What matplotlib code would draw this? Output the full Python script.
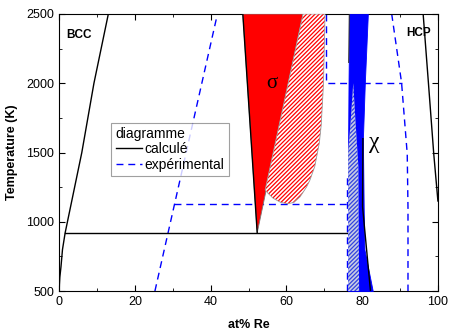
import matplotlib
matplotlib.use("Agg")
import matplotlib.pyplot as plt
from matplotlib.ticker import MultipleLocator

plt.rcParams['font.family'] = ['Liberation Sans', 'DejaVu Sans']
plt.rcParams['hatch.linewidth'] = 0.9

# calculated boundaries (solid black)
bcc_x = [0, 0.2, 0.5, 0.9, 1.6, 6.0, 9.2, 13.0]
bcc_t = [500, 600, 675, 800, 920, 1500, 2000, 2500]
hcp_x = [96.1, 97.5, 98.9, 100.0]
hcp_t = [2500, 2000, 1490, 1150]
eut_x = [1.6, 76.3]
eut_t = [920, 920]

# calculated sigma (red)
sigma_x = [52.3, 48.5, 64.4]
sigma_t = [920, 2500, 2500]

# calculated chi (blue band), left and right boundaries
chi_t = [500, 800, 1100, 1600, 2000, 2500]
chi_lo = [76.3, 76.3, 76.3, 76.3, 76.4, 76.6]
chi_hi = [82.8, 80.6, 80.4, 80.2, 80.7, 81.5]
chi_left_x = [76.6, 76.45]
chi_left_t = [2500, 2150]
chi_line_x = [80.2, 80.1, 82.2]
chi_line_t = [1600, 1110, 500]

# experimental sigma (red hatch)
sig_exp_x = [64.4, 70.2, 69.8, 69.2, 68.7, 67.5, 66.2, 65.3, 63.6, 62.0, 60.4, 58.5, 56.5, 55.0, 54.4]
sig_exp_t = [2500, 2500, 2000, 1700, 1570, 1400, 1300, 1250, 1180, 1140, 1130, 1140, 1170, 1210, 1230]

# experimental chi (blue hatch)
chi_exp_x = [76.3, 76.3, 76.9, 77.65, 78.3, 79.0, 79.2]
chi_exp_t = [500, 1500, 1700, 2000, 1700, 1400, 500]

# experimental boundaries (dashed blue)
exp_left_x = [25.3, 41.8]
exp_left_t = [500, 2500]
exp_h1_x = [30.4, 76.3]
exp_h1_t = [1125, 1125]
exp_v1_x = [76.0, 76.0]
exp_v1_t = [500, 1350]
exp_sig_x = [70.4, 70.4, 90.4]
exp_sig_t = [2500, 2005, 2005]
exp_right_x = [87.8, 90.4, 91.9, 92.1, 92.1]
exp_right_t = [2500, 2005, 1490, 1100, 500]

fig, ax = plt.subplots(figsize=(4.51, 3.33), dpi=100)
fig.subplots_adjust(left=0.131, right=0.971, bottom=0.126, top=0.958)

dash = dict(color='#0000ff', lw=1.0, dashes=(5, 3.5))

ax.plot(exp_left_x, exp_left_t, **dash)
ax.plot(exp_h1_x, exp_h1_t, **dash)
ax.plot(exp_v1_x, exp_v1_t, **dash)
ax.plot(exp_sig_x, exp_sig_t, **dash)
ax.plot(exp_right_x, exp_right_t, **dash)

ax.fill(sigma_x, sigma_t, facecolor='#ff0000', edgecolor='#777777', lw=0.6, zorder=3)
ax.plot(sigma_x[:2], sigma_t[:2], color='black', lw=1.0, zorder=4)
ax.fill(sig_exp_x, sig_exp_t, facecolor='white', edgecolor='#ff0000', hatch='////////', lw=0, zorder=3)
ax.fill(sig_exp_x, sig_exp_t, facecolor='none', edgecolor='#999999', lw=0.6, zorder=3)

ax.fill_betweenx(chi_t, chi_lo, chi_hi, color='#0000ff', lw=0.6, zorder=3)
ax.fill(chi_exp_x, chi_exp_t, facecolor='#c8cce6', edgecolor='#3344dd', hatch='////////', lw=0, zorder=4)
ax.plot(chi_line_x, chi_line_t, color='black', lw=1.0, zorder=5)
ax.plot(chi_left_x, chi_left_t, color='#222222', lw=0.7, zorder=5)

ax.plot(bcc_x, bcc_t, color='black', lw=1.0)
ax.plot(hcp_x, hcp_t, color='black', lw=1.0)
ax.plot(eut_x, eut_t, color='black', lw=1.0)

# legend entries
ax.plot([], [], color='black', lw=1.0, label='calculé')
ax.plot([], [], label='expérimental', **dash)
leg = ax.legend(title='diagramme', loc='upper left', bbox_to_anchor=(0.138, 0.608),
                fontsize=10, title_fontsize=10, frameon=True, fancybox=False,
                edgecolor='#888888', handlelength=1.9, handletextpad=0.2,
                borderpad=0.3, labelspacing=0.1, borderaxespad=0)
leg._legend_box.align = 'left'
leg.get_frame().set_linewidth(0.8)

ax.text(2.0, 2345, 'BCC', fontsize=8.5, fontweight='bold', va='center', ha='left')
ax.text(91.6, 2360, 'HCP', fontsize=8.5, fontweight='bold', va='center', ha='left')
ax.text(56.2, 2000, 'σ', fontsize=15, va='center', ha='center', family=['Liberation Serif', 'DejaVu Serif'])
ax.text(83.3, 1570, 'χ', fontsize=17, va='center', ha='center', family=['Liberation Serif', 'DejaVu Serif'])

ax.set_xlim(0, 100)
ax.set_ylim(500, 2500)
ax.xaxis.set_major_locator(MultipleLocator(20))
ax.xaxis.set_minor_locator(MultipleLocator(10))
ax.yaxis.set_major_locator(MultipleLocator(500))
ax.yaxis.set_minor_locator(MultipleLocator(250))
ax.tick_params(which='both', direction='in', top=True, right=True, labelsize=9)
ax.tick_params(which='major', length=4)
ax.tick_params(which='minor', length=2.5)
ax.set_xlabel('at% Re', fontsize=9, fontweight='bold', labelpad=8)
ax.set_ylabel('Temperature (K)', fontsize=9, fontweight='bold', labelpad=6)

fig.savefig('out.png', dpi=100)
